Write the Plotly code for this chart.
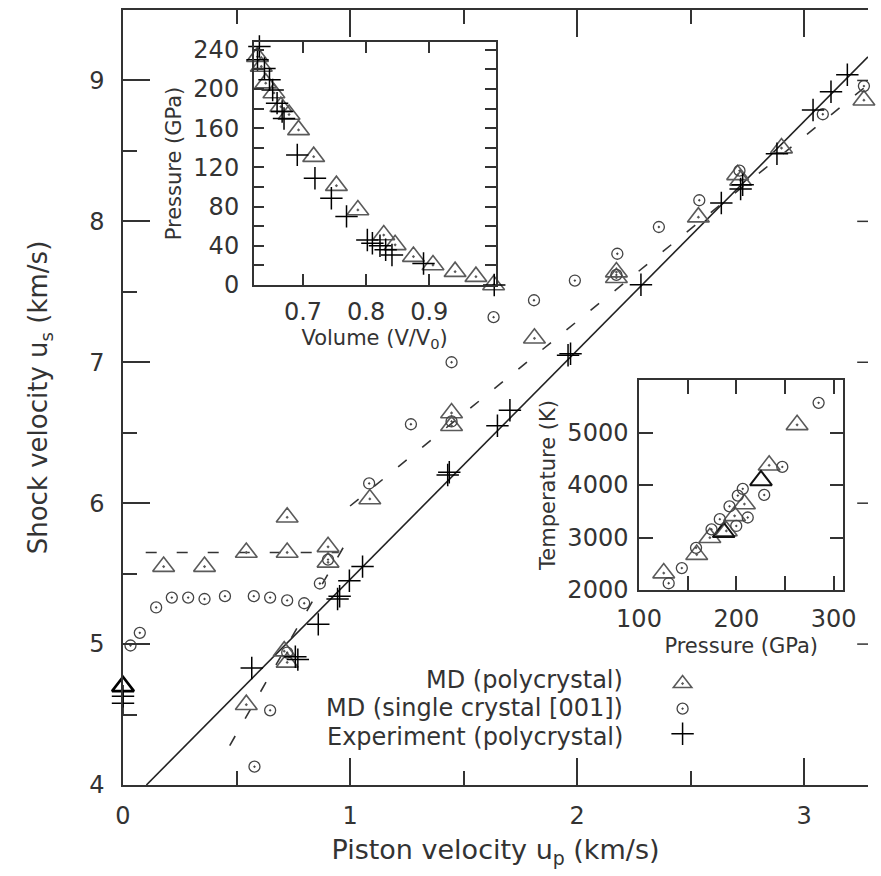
import plotly.graph_objects as go

# ---- main panel: shock velocity vs piston velocity (km/s) ----
poly_up = [0.179, 0.359, 0.543, 0.723, 0.723, 0.903, 0.903, 0.543, 0.710, 0.723,
           1.087, 1.447, 1.447, 1.812, 2.173, 2.173, 2.534, 2.707, 2.720, 2.900, 3.263]
poly_us = [5.55, 5.55, 5.65, 5.65, 5.90, 5.69, 5.58, 4.57, 4.95, 4.87,
           6.03, 6.64, 6.55, 7.17, 7.60, 7.64, 8.03, 8.33, 8.29, 8.52, 8.86]
poly0_up = [0.0]
poly0_us = [4.70]

single_up = [0.033, 0.074, 0.146, 0.215, 0.287, 0.359, 0.449, 0.576, 0.648, 0.723,
             0.798, 0.867, 0.648, 0.579, 0.723, 0.903, 1.084, 1.268, 1.447, 1.447,
             1.632, 1.810, 1.990, 2.173, 2.177, 2.360, 2.538, 2.715, 3.082, 3.263]
single_us = [4.99, 5.08, 5.26, 5.33, 5.33, 5.32, 5.34, 5.34, 5.33, 5.31,
             5.29, 5.43, 4.53, 4.13, 4.94, 5.60, 6.14, 6.56, 7.00, 6.58,
             7.32, 7.44, 7.58, 7.62, 7.77, 7.96, 8.15, 8.36, 8.76, 8.96]

exp_up = [0.0, 0.0, 0.567, 0.759, 0.770, 0.860, 0.954, 0.945, 0.997, 1.055,
          1.437, 1.430, 1.649, 1.704, 1.971, 1.960, 2.281, 2.635, 2.729, 2.720,
          2.880, 3.039, 3.118, 3.190]
exp_us = [4.63, 4.58, 4.83, 4.91, 4.89, 5.14, 5.34, 5.32, 5.45, 5.55,
          6.22, 6.20, 6.55, 6.66, 7.06, 7.05, 7.55, 8.13, 8.26, 8.23,
          8.48, 8.79, 8.92, 9.04]

# linear fit to experiment (solid) and piecewise MD trend (dashed)
fit_up = [0.103, 3.281]
fit_us = [4.000, 9.167]
md_flat_up = [0.10, 0.95]
md_flat_us = [5.65, 5.65]
md_low_up = [0.47, 1.00]
md_low_us = [4.28, 5.77]
md_high_up = [1.00, 3.281]
md_high_us = [5.98, 8.97]

# ---- inset: pressure vs volume ----
pv_poly_v = [1.002, 0.974, 0.941, 0.906, 0.875, 0.846, 0.828, 0.787, 0.753, 0.717,
             0.693, 0.678, 0.665, 0.654, 0.641, 0.634, 0.628]
pv_poly_p = [0, 8.5, 13.6, 20.4, 29, 41, 51, 76.6, 101.4, 131,
             158.3, 174, 182, 196, 206, 223, 233]
pv_exp_v = [1.003, 0.891, 0.841, 0.831, 0.822, 0.810, 0.802, 0.769, 0.745, 0.719,
            0.691, 0.670, 0.667, 0.659, 0.652, 0.647, 0.639, 0.631, 0.628]
pv_exp_p = [0, 22, 30.6, 36, 40, 42.6, 46, 70, 88.6, 109,
            132.8, 170, 177, 185.6, 199, 209.4, 221, 243.4, 230]

# ---- inset: temperature vs pressure ----
tp_poly_p = [125.4, 159.3, 172.8, 189.7, 198.2, 208.3, 233.7, 262.4]
tp_poly_t = [2322, 2674, 2996, 3124, 3412, 3638, 4376, 5146]
tp_dark_p = [225.3, 187.0]
tp_dark_t = [4087, 3100]
tp_single_p = [130.5, 144, 158.6, 174.5, 183, 193, 201.5, 206.6, 199.9, 211.7,
               228.6, 247.2, 284.5]
tp_single_t = [2129, 2418, 2803, 3156, 3349, 3593, 3798, 3927, 3220, 3381,
               3811, 4345, 5565]

legend_names = ["MD (polycrystal)", "MD (single crystal [001])", "Experiment (polycrystal)"]

FONT = "DejaVu Sans, Liberation Sans, Arial, sans-serif"
INK = "#333333"
TRI = "#5a5a5a"
CIR = "#444444"

tri = dict(symbol="triangle-up-open-dot", size=19, color=TRI, line=dict(width=1.6, color=TRI))
cir = dict(symbol="circle-open-dot", size=11, color=CIR, line=dict(width=1.3, color=CIR))
plus = dict(symbol="cross-thin-open", size=16, color="black", line=dict(width=1.5, color="black"))

fig = go.Figure()

# fitted lines
fig.add_trace(go.Scatter(x=fit_up, y=fit_us, mode="lines", line=dict(color="#222", width=1.6),
                         showlegend=False, hoverinfo="skip"))
for xs, ys in [(md_flat_up, md_flat_us), (md_low_up, md_low_us), (md_high_up, md_high_us)]:
    fig.add_trace(go.Scatter(x=xs, y=ys, mode="lines",
                             line=dict(color="#333", width=1.6, dash="11px,20px"),
                             showlegend=False, hoverinfo="skip"))

fig.add_trace(go.Scatter(x=poly_up, y=poly_us, mode="markers", marker=tri, name=" ",
                         legendrank=1, cliponaxis=False))
fig.add_trace(go.Scatter(x=poly0_up, y=poly0_us, mode="markers", showlegend=False,
                         marker=dict(symbol="triangle-up-open", size=19, color="black",
                                     line=dict(width=2.6, color="black")),
                         cliponaxis=False))
fig.add_trace(go.Scatter(x=single_up, y=single_us, mode="markers", marker=cir, name=" ",
                         legendrank=2, cliponaxis=False))
fig.add_trace(go.Scatter(x=exp_up, y=exp_us, mode="markers", marker=plus, name=" ",
                         legendrank=3, cliponaxis=False))

# P-V inset
fig.add_trace(go.Scatter(x=pv_poly_v, y=pv_poly_p, mode="markers", marker=tri, xaxis="x2",
                         yaxis="y2", showlegend=False, cliponaxis=False))
fig.add_trace(go.Scatter(x=pv_exp_v, y=pv_exp_p, mode="markers", marker=plus, xaxis="x2",
                         yaxis="y2", showlegend=False, cliponaxis=False))

# T-P inset
fig.add_trace(go.Scatter(x=tp_poly_p, y=tp_poly_t, mode="markers", marker=tri, xaxis="x3",
                         yaxis="y3", showlegend=False, cliponaxis=False))
fig.add_trace(go.Scatter(x=tp_dark_p, y=tp_dark_t, mode="markers", xaxis="x3", yaxis="y3",
                         marker=dict(symbol="triangle-up-open", size=19, color="#111",
                                     line=dict(width=2.0, color="#111")),
                         showlegend=False, cliponaxis=False))
fig.add_trace(go.Scatter(x=tp_single_p, y=tp_single_t, mode="markers", marker=cir, xaxis="x3",
                         yaxis="y3", showlegend=False, cliponaxis=False))

W, H = 881, 876
ML, MR, MT, MB = 123, 0, 10, 91
PW, PH = W - ML - MR, H - MT - MB


def px_x(p):
    return (p - ML) / PW


def px_y(p):
    return (H - MB - p) / PH


TICK_FS = 24
axis_common = dict(showgrid=False, zeroline=False, showline=True, linecolor=INK, linewidth=1.5,
                   ticks="inside", tickcolor=INK, tickwidth=1.5, mirror="ticks",
                   tickfont=dict(size=TICK_FS, color=INK, family=FONT))

y_main_ticks = [4, 5, 6, 7, 8, 9]

fig.update_layout(
    width=W, height=H,
    margin=dict(l=ML, r=MR, t=MT, b=MB),
    paper_bgcolor="white", plot_bgcolor="white",
    font=dict(family=FONT, color=INK),
    xaxis=dict(axis_common, domain=[0, 1], range=[0, 3.281], tickvals=[0, 1, 2, 3], ticklen=27,
               minor=dict(ticks="inside", tickvals=[0.5, 1.5, 2.5], ticklen=14, tickwidth=1.5,
                          tickcolor=INK),
               ticklabelstandoff=8,
               title=dict(text="Piston velocity u<sub>p</sub> (km/s)", font=dict(size=27),
                          standoff=12)),
    yaxis=dict(axis_common, domain=[0, 1], range=[4, 9.5], tickvals=y_main_ticks, ticklen=27,
               mirror=False,
               minor=dict(ticks="inside", tickvals=[4.5, 5.5, 6.5, 7.5, 8.5, 9.5], ticklen=14,
                          tickwidth=1.5, tickcolor=INK),
               ticklabelstandoff=12,
               title=dict(text="Shock velocity u<sub>s</sub> (km/s)", font=dict(size=26),
                          standoff=34)),
    xaxis2=dict(axis_common, domain=[px_x(256), px_x(502)], range=[0.622, 1.005],
                tickvals=[0.7, 0.8, 0.9], ticktext=["0.7", "0.8", "0.9"], ticklen=11,
                anchor="y2", ticklabelstandoff=4,
                title=dict(text="Volume (V/V<sub>0</sub>)", font=dict(size=21), standoff=0)),
    yaxis2=dict(axis_common, domain=[px_y(285), px_y(42)], range=[0, 248],
                tickvals=list(range(0, 241, 40)), ticklen=11, anchor="x2",
                minor=dict(ticks="inside", tickvals=list(range(20, 241, 40)), ticklen=11,
                           tickwidth=1.5, tickcolor=INK),
                ticklabelstandoff=8,
                title=dict(text="Pressure (GPa)", font=dict(size=21), standoff=6)),
    xaxis3=dict(axis_common, domain=[px_x(648), px_x(856)], range=[100, 310],
                tickvals=[100, 200, 300], ticklen=14, anchor="y3", ticklabelstandoff=6,
                minor=dict(ticks="inside", tickvals=[150, 250], ticklen=14, tickwidth=1.5,
                           tickcolor=INK),
                title=dict(text="Pressure (GPa)", font=dict(size=21), standoff=7)),
    yaxis3=dict(axis_common, domain=[px_y(590), px_y(380)], range=[2000, 6000],
                tickvals=[2000, 3000, 4000, 5000], ticklen=14, anchor="x3", ticklabelstandoff=4,
                title=dict(text="Temperature (K)", font=dict(size=21), standoff=6)),
    legend=dict(x=px_x(672), y=px_y(666), xanchor="left", yanchor="top",
                bgcolor="rgba(0,0,0,0)", font=dict(size=17, family=FONT),
                tracegroupgap=0, itemsizing="trace", traceorder="normal"),
    showlegend=True,
)

# legend labels, right-aligned to the left of the symbols
rows = [680, 708, 737]
for name, yp in zip(legend_names, rows):
    fig.add_annotation(x=px_x(634), y=px_y(yp), xref="paper", yref="paper", text=name,
                       showarrow=False, xanchor="right", yanchor="middle",
                       font=dict(size=24, family=FONT, color=INK))

# inward tick stubs of the right-hand frame, which lies just past the page edge
for yv in y_main_ticks[1:]:
    fig.add_shape(type="line", xref="paper", yref="y", x0=px_x(870), x1=1.0, y0=yv, y1=yv,
                  line=dict(color=INK, width=1.5))

fig.write_html("out.html")
